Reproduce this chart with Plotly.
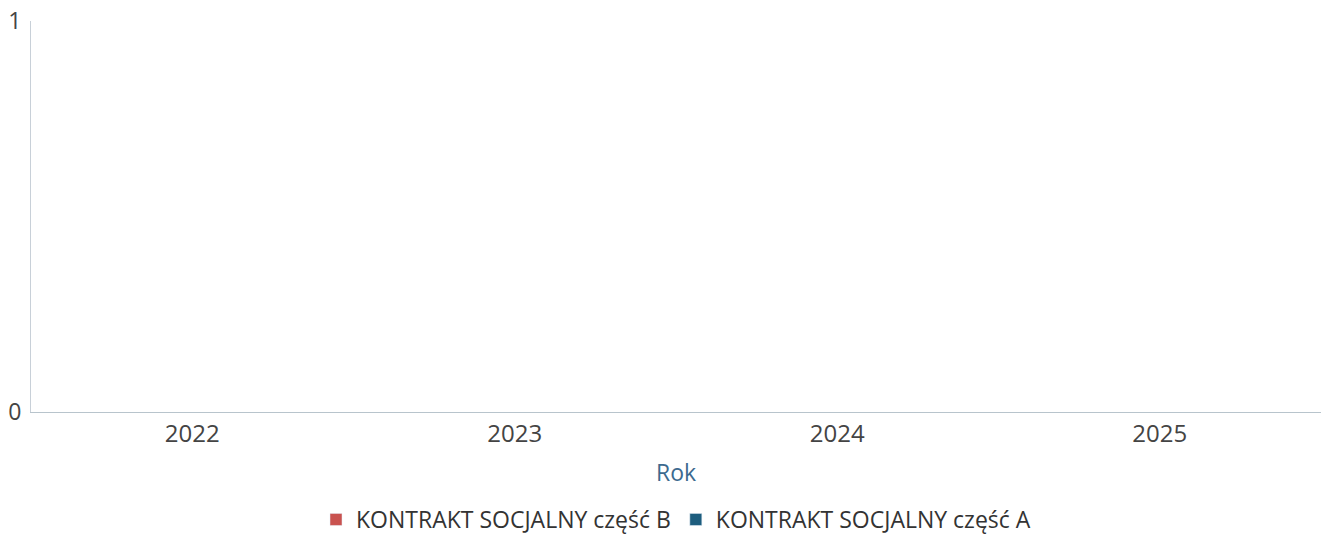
import plotly.graph_objects as go

years = ["2022", "2023", "2024", "2025"]
series_b = [0, 0, 0, 0]
series_a = [0, 0, 0, 0]
name_b = "KONTRAKT SOCJALNY część B"
name_a = "KONTRAKT SOCJALNY część A"

fig = go.Figure()
fig.add_trace(go.Bar(x=years, y=series_b, name=name_b, marker_color="#c9524f"))
fig.add_trace(go.Bar(x=years, y=series_a, name=name_a, marker_color="#1d5d7e"))

fig.update_layout(
    width=1322, height=536,
    barmode="stack",
    paper_bgcolor="white", plot_bgcolor="white",
    font=dict(family="Open Sans", size=22, color="#444"),
    margin=dict(l=31, r=1, t=21, b=124, autoexpand=False),
    xaxis=dict(title=dict(text="Rok", font=dict(color="#3d6a8f", size=23), standoff=17),
               showline=True, linecolor="#b8c4cc", linewidth=1, showgrid=False,
               automargin=False, tickfont=dict(size=24, color="#444")),
    yaxis=dict(range=[0, 1], tickvals=[0, 1], showline=True, linecolor="#c8d0d8",
               showgrid=False, zeroline=False, automargin=False, ticklabelstandoff=4,
               tickfont=dict(size=23, color="#444")),
    legend=dict(orientation="h", x=0.5, xanchor="center", y=-0.22, yanchor="top",
                traceorder="normal", itemwidth=30,
                font=dict(size=23, color="#333")),
)
fig.write_html("out.html", post_script="document.body.style.margin='0';",
               config={"displayModeBar": False})
